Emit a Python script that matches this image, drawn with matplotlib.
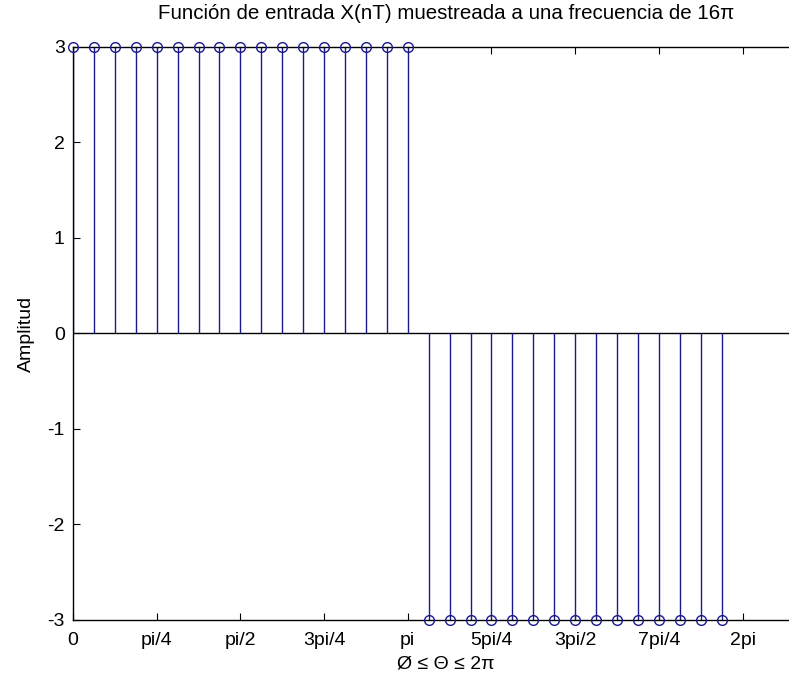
# stem plot of the sampled square wave
import numpy as np
from matplotlib import pyplot as plt

plt.rcParams['font.family'] = ['Liberation Sans', 'DejaVu Sans']
plt.rcParams['axes.unicode_minus'] = False

# samples n = 0..31 taken every pi/16
n = np.arange(32)
theta = n * np.pi / 16
amp = [3] * 17 + [-3] * 15

tick_pos = [k * np.pi / 4 for k in range(9)]
tick_labels = ['0', 'pi/4', 'pi/2', '3pi/4', 'pi', '5pi/4', '3pi/2', '7pi/4', '2pi']

fig = plt.figure(figsize=(7.89, 6.84), dpi=100)
ax = fig.add_axes([0.0925, 0.0936, 0.9455, 0.8377])

blue = '#1a1a8c'
markers, stems, base = ax.stem(theta, amp, basefmt=' ')
plt.setp(stems, color=blue, linewidth=1.0)
plt.setp(markers, color=blue, markerfacecolor='none', markersize=7,
         markeredgewidth=1.0, clip_on=False, zorder=3)
ax.axhline(0, color='k', linewidth=1.0, zorder=1)

ax.set_xlim(0, 7)
ax.set_ylim(-3, 3)
ax.set_xticks(tick_pos)
ax.set_xticklabels(tick_labels)
ax.set_yticks(range(-3, 4))
ax.tick_params(direction='in', length=5, top=True, right=True, labelsize=14)
ax.tick_params(axis='x', pad=9)
ax.tick_params(axis='y', pad=6)
for s in ax.spines.values():
    s.set_linewidth(1.0)

ax.set_title('Función de entrada X(nT) muestreada a una frecuencia de 16π', fontsize=14.8, pad=20)
ax.set_xlabel('Ø ≤ Θ ≤ 2π', fontsize=14, labelpad=4)
ax.set_ylabel('Amplitud', fontsize=14, labelpad=9)

fig.savefig('out.png', dpi=100)
